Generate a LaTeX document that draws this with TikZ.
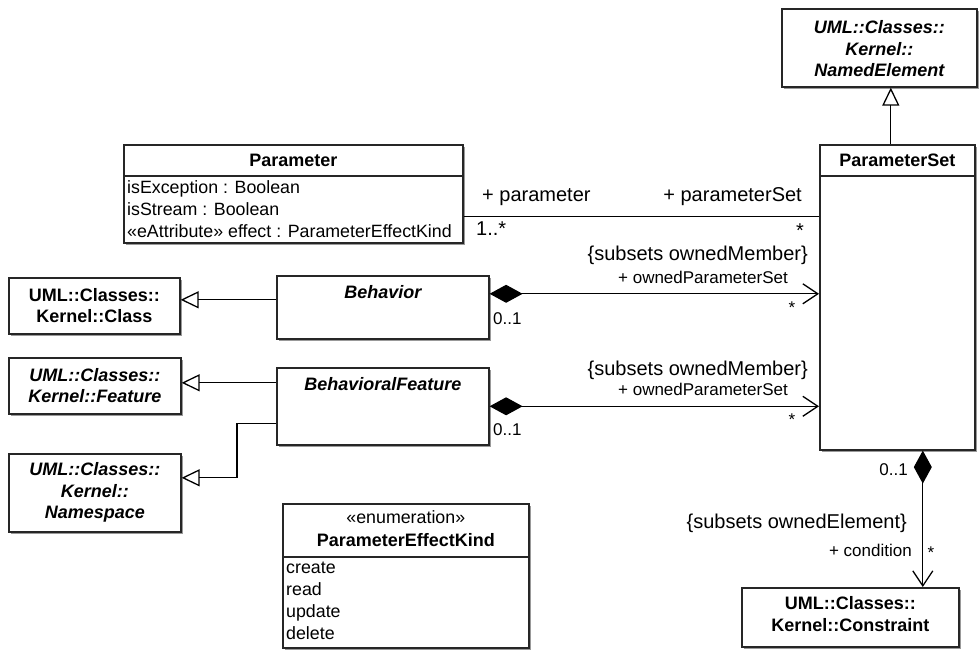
\documentclass[tikz,border=0pt]{standalone}
\usepackage{fontspec}
\setmainfont{Liberation Sans}
\usetikzlibrary{arrows.meta, positioning, calc, shadows}

\begin{document}
\begin{tikzpicture}[x=1pt, y=-1pt,
    every node/.style={font=\fontsize{17.8}{21}\selectfont, inner sep=0pt},
    umlbox/.style={draw=black!85, line width=1.6pt, fill=white, anchor=north west,
        drop shadow={shadow xshift=2.5pt, shadow yshift=-2.5pt, fill=black!40, opacity=1}},
    sepline/.style={draw=black!85, line width=1.3pt},
    boxname/.style={font=\fontsize{18}{21.5}\selectfont\bfseries, align=center},
    absname/.style={font=\fontsize{18}{21.5}\selectfont\bfseries\itshape, align=center},
    role/.style={font=\fontsize{17}{20}\selectfont},
    bigrole/.style={font=\fontsize{20}{24}\selectfont},
    assoc/.style={line width=1.3pt},
    gen/.style={assoc, -{Triangle[open, fill=white, length=18pt, width=17pt]}},
    comp/.style={assoc, {Diamond[length=33pt, width=18pt]}-{Straight Barb[length=15pt, width=20pt]}}]
    % Canvas
    \fill[white] (0,0) rectangle (980,656);
    \useasboundingbox (0,0) rectangle (980,656);
    % NamedElement (top right)
    \node[umlbox, minimum width=195pt, minimum height=78pt] (named) at (781,8) {};
    \node[absname] (namedtxt) at ([yshift=-1pt]named.center) {UML::Classes::\\Kernel::\\NamedElement};
    % ParameterSet
    \node[umlbox, minimum width=155pt, minimum height=305pt] (pset) at (819,144) {};
    \draw[sepline] ([yshift=-32pt]pset.north west) -- ([yshift=-32pt]pset.north east);
    \node[boxname] (psetname) at ([yshift=-16pt]pset.north) {ParameterSet};
    % Parameter
    \node[umlbox, minimum width=339pt, minimum height=98pt] (param) at (123,144) {};
    \draw[sepline] ([yshift=-32pt]param.north west) -- ([yshift=-32pt]param.north east);
    \node[boxname] (paramname) at ([yshift=-16pt]param.north) {Parameter};
    \node[anchor=base west] (isexc) at (127,193) {isException : Boolean};
    \node[anchor=base west] (isstr) at (127,215) {isStream : Boolean};
    \node[anchor=base west] (effect) at (127,237) {«eAttribute» effect : ParameterEffectKind};
    % Kernel classes on the left
    \node[umlbox, minimum width=171pt, minimum height=56pt] (cls) at (8,277) {};
    \node[boxname] (clstxt) at (cls.center) {UML::Classes::\\Kernel::Class};
    \node[umlbox, minimum width=172pt, minimum height=56pt] (feat) at (8,357) {};
    \node[absname] (feattxt) at (feat.center) {UML::Classes::\\Kernel::Feature};
    \node[umlbox, minimum width=172pt, minimum height=78pt] (ns) at (8,453) {};
    \node[absname] (nstxt) at (ns.center) {UML::Classes::\\Kernel::\\Namespace};
    % Behavior and BehavioralFeature
    \node[umlbox, minimum width=212pt, minimum height=63pt] (behav) at (276,275) {};
    \node[absname] (behavname) at ([yshift=-17pt]behav.north) {Behavior};
    \node[umlbox, minimum width=212pt, minimum height=77pt] (bf) at (276,367) {};
    \node[absname] (bfname) at ([yshift=-17pt]bf.north) {BehavioralFeature};
    % Enumeration
    \node[umlbox, minimum width=246pt, minimum height=144pt] (enum) at (282,503) {};
    \draw[sepline] ([yshift=-54pt]enum.north west) -- ([yshift=-54pt]enum.north east);
    \node (enumstereo) at ([yshift=-14pt]enum.north) {«enumeration»};
    \node[boxname] (enumname) at ([yshift=-37pt]enum.north) {ParameterEffectKind};
    \node[anchor=base west] (litcreate) at (286,573) {create};
    \node[anchor=base west] (litread) at (286,595) {read};
    \node[anchor=base west] (litupdate) at (286,617) {update};
    \node[anchor=base west] (litdelete) at (286,639) {delete};
    % Constraint
    \node[umlbox, minimum width=217pt, minimum height=59pt] (constr) at (741,587) {};
    \node[boxname] (constrtxt) at ([yshift=3pt]constr.center) {UML::Classes::\\Kernel::Constraint};
    % Generalizations
    \coordinate (g1) at ([xshift=-6.5pt]pset.north);
    \draw[gen] (g1) -- (g1 |- named.south);
    \coordinate (g2) at ([yshift=7.5pt]behav.west);
    \draw[gen] (g2) -- (g2 -| cls.east);
    \coordinate (g3) at ([yshift=23.5pt]bf.west);
    \draw[gen] (g3) -- (g3 -| feat.east);
    \coordinate (g4) at ([yshift=-17.5pt]bf.west);
    \coordinate (g5) at ([yshift=15pt]ns.east);
    \draw[gen] (g4) -- ++(-39,0) |- (g5);
    % Parameter -- ParameterSet
    \coordinate (a1) at ([yshift=-23pt]param.east);
    \draw[assoc] (a1) -- (a1 -| pset.west);
    \node[bigrole, anchor=west] (rparam) at (482,197) {+ parameter};
    \node[bigrole, anchor=east] (rpset) at (802,197) {+ parameterSet};
    \node[bigrole, anchor=west] (mparam) at (476,229) {1..*};
    \node[bigrole, anchor=east] (mpset) at (804,231) {*};
    % Behavior owns ParameterSet
    \coordinate (c1) at ([yshift=13.5pt]behav.east);
    \draw[comp] (c1) -- (c1 -| pset.west);
    \node[bigrole, anchor=east] (sub1) at (808,255) {\{subsets ownedMember\}};
    \node[role, anchor=east] (own1) at (788,277) {+ ownedParameterSet};
    \node[role] (m1) at (792,308) {*};
    \node[role, anchor=west] (z1) at (493,319) {0..1};
    % BehavioralFeature owns ParameterSet
    \draw[comp] (bf.east) -- (bf.east -| pset.west);
    \node[bigrole, anchor=east] (sub2) at (808,370) {\{subsets ownedMember\}};
    \node[role, anchor=east] (own2) at (788,389) {+ ownedParameterSet};
    \node[role] (m2) at (792,420) {*};
    \node[role, anchor=west] (z2) at (493,430) {0..1};
    % ParameterSet owns Constraint
    \coordinate (c3) at ([xshift=25.5pt]pset.south);
    \draw[comp] (c3) -- (c3 |- constr.north);
    \node[role, anchor=east] (z3) at (908,470) {0..1};
    \node[bigrole, anchor=east] (sub3) at (907,523) {\{subsets ownedElement\}};
    \node[role, anchor=east] (own3) at (912,550) {+ condition};
    \node[role] (m3) at (931,553) {*};
\end{tikzpicture}
\end{document}
